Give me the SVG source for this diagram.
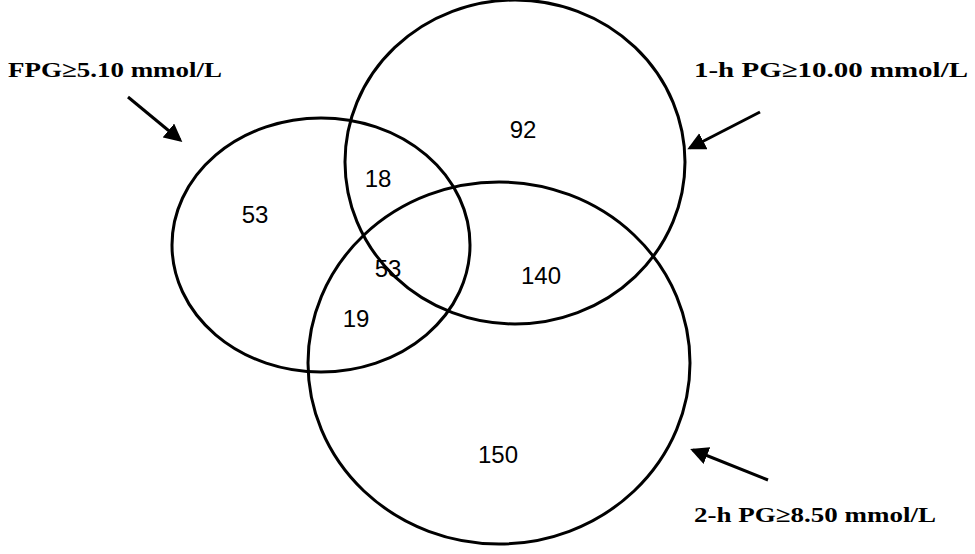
<svg xmlns="http://www.w3.org/2000/svg" width="975" height="554" viewBox="0 0 975 554">
<style>
.c{fill:none;stroke:#000;stroke-width:3}
.n{font-family:"Liberation Sans",Arial,sans-serif;font-size:24px;text-anchor:middle}
.l{font-family:"Liberation Serif","Times New Roman",serif;font-size:22px;font-weight:bold}
.a{stroke:#000;stroke-width:3;fill:none;marker-end:url(#ah)}
</style>
<defs><marker id="ah" markerWidth="6" markerHeight="6" refX="5" refY="3" orient="auto" markerUnits="strokeWidth"><path d="M0,0L6,3L0,6z" fill="#000"/></marker></defs>
<rect width="975" height="554" fill="#fff"/>
<g id="fpg"><ellipse class="c" cx="321" cy="245" rx="149" ry="127"/><text class="l" x="8" y="77" textLength="214" lengthAdjust="spacingAndGlyphs">FPG≥5.10 mmol/L</text></g>
<g id="pg1"><ellipse class="c" cx="515" cy="162" rx="170" ry="162"/><text class="l" x="694" y="77" textLength="274" lengthAdjust="spacingAndGlyphs">1-h PG≥10.00 mmol/L</text></g>
<g id="pg2"><ellipse class="c" cx="499" cy="363" rx="191" ry="181"/><text class="l" x="694" y="522" textLength="242" lengthAdjust="spacingAndGlyphs">2-h PG≥8.50 mmol/L</text></g>
<g id="numbers">
<text class="n" x="255" y="223">53</text>
<text class="n" x="378" y="187">18</text>
<text class="n" x="523" y="138">92</text>
<text class="n" x="388" y="277">53</text>
<text class="n" x="541" y="284">140</text>
<text class="n" x="356" y="327">19</text>
<text class="n" x="498" y="463">150</text>
</g>
<g id="connectors">
<line class="a" x1="128" y1="97" x2="180" y2="140"/>
<line class="a" x1="760" y1="112" x2="690" y2="148"/>
<line class="a" x1="768" y1="480" x2="693" y2="450"/>
</g>
</svg>
